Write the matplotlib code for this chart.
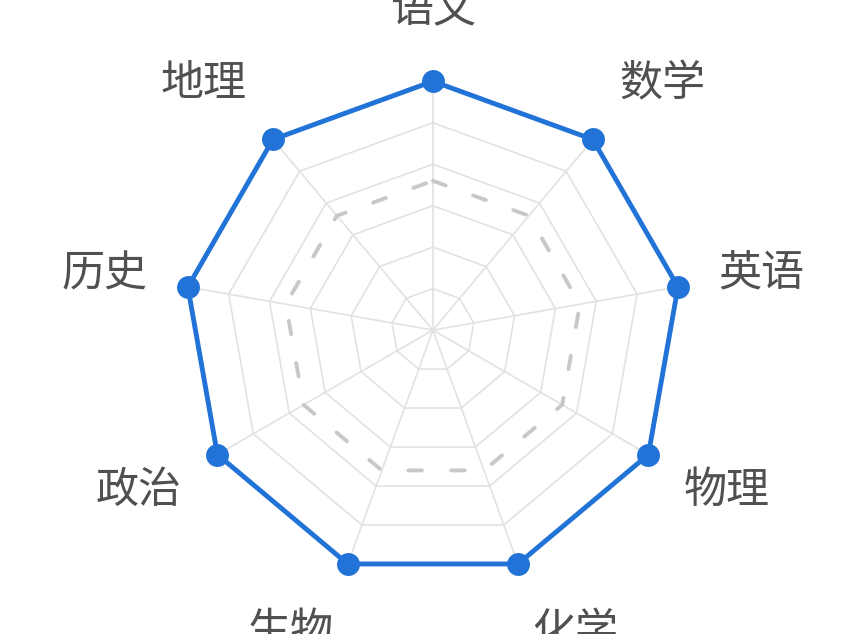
import numpy as np
import matplotlib
matplotlib.use("Agg")
import matplotlib.pyplot as plt

plt.rcParams['font.family'] = ['Noto Sans CJK SC', 'DejaVu Sans']

# subjects, clockwise from the top
subjects = ['语文', '数学', '英语', '物理', '化学', '生物', '政治', '历史', '地理']
scores = [100, 100, 100, 100, 100, 100, 100, 100, 100]
pass_line = [60, 60, 60, 60, 60, 60, 60, 60, 60]
max_score = 100
n_rings = 6

angles = np.linspace(0, 2 * np.pi, len(subjects), endpoint=False)
closed = np.append(angles, angles[0])

fig = plt.figure(figsize=(8.45, 6.34), dpi=100)
ax = fig.add_axes([0.2178, 0.0868, 0.589, 0.785], polar=True)
ax.set_theta_offset(np.pi / 2)
ax.set_theta_direction(-1)
ax.set_ylim(0, max_score)
ax.grid(False)
ax.spines['polar'].set_visible(False)
ax.set_xticks([])
ax.set_yticks([])

# polygon grid
grid_color = '#e2e2e2'
for r in np.linspace(0, max_score, n_rings + 1)[1:]:
    ax.plot(closed, [r] * len(closed), color=grid_color, lw=1.2, zorder=1)
for a in angles:
    ax.plot([a, a], [0, max_score], color=grid_color, lw=1.2, zorder=1)

# pass line
ax.plot(closed, pass_line + pass_line[:1], color='#c8c8c8', lw=2.8,
        dashes=(3.5, 7.5), dash_capstyle='round', zorder=2)

# scores
blue = '#2273d7'
ax.plot(closed, scores + scores[:1], color=blue, lw=3.5, zorder=3,
        clip_on=False, solid_joinstyle='round')
ax.plot(angles, scores, 'o', color=blue, markersize=16.5, mec='none',
        zorder=4, clip_on=False)

# axis names, pushed out from the outer vertex
for a, name in zip(angles, subjects):
    s, c = np.sin(a), np.cos(a)
    if abs(s) < 0.05:
        ha = 'center'
    elif s > 0:
        ha = 'left'
    else:
        ha = 'right'
    ax.annotate(name, xy=(a, max_score), xytext=(41 * s, 72 * c),
                textcoords='offset pixels', ha=ha, va='center',
                fontsize=31, color='#505050', annotation_clip=False)

fig.savefig('out.png', dpi=100, facecolor='white')
